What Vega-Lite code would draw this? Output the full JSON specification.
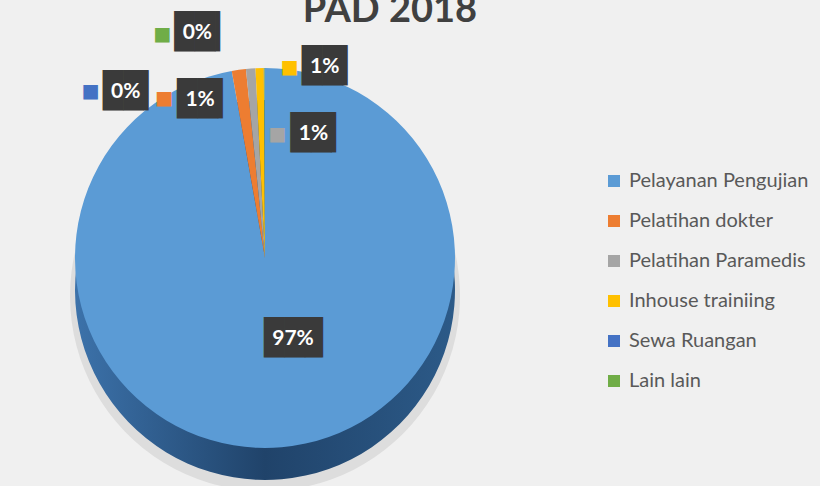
{
  "$schema": "https://vega.github.io/schema/vega-lite/v6.json",
  "width": 530,
  "height": 456,
  "autosize": {"type": "none"},
  "padding": {"left": 0, "top": 30, "right": 290, "bottom": 0},
  "background": "#f0f0f0",
  "config": {"view": {"stroke": null}},
  "title": {"text": "PAD 2018", "font": "Lato", "fontSize": 38, "fontWeight": "bold", "color": "#404040", "anchor": "middle", "offset": -14, "dx": 125},
  "data": {"values": [
    {"kategori": "Pelayanan Pengujian", "nilai": 97.2, "label": "97%", "urut": 1},
    {"kategori": "Pelatihan dokter", "nilai": 1.2, "label": "1%", "urut": 2},
    {"kategori": "Pelatihan Paramedis", "nilai": 0.8, "label": "1%", "urut": 3},
    {"kategori": "Inhouse trainiing", "nilai": 0.7, "label": "1%", "urut": 4},
    {"kategori": "Sewa Ruangan", "nilai": 0.05, "label": "0%", "urut": 5},
    {"kategori": "Lain lain", "nilai": 0.05, "label": "0%", "urut": 6}
  ]},
  "transform": [
    {"stack": "nilai", "groupby": [], "sort": [{"field": "urut", "order": "ascending"}], "as": ["v0", "v1"]}
  ],
  "layer": [
    {
      "mark": {"type": "arc", "radius": 195, "yOffset": 38, "color": "#dddddd"},
      "encoding": {
        "theta": {"field": "v0", "type": "quantitative", "scale": {"domain": [0, 100]}},
        "theta2": {"field": "v1"}
      }
    },
    {
      "mark": {"type": "arc", "radius": 190, "yOffset": 32,
        "color": {"gradient": "linear", "x1": 0, "y1": 0, "x2": 1, "y2": 0,
          "stops": [{"offset": 0, "color": "#3c72aa"}, {"offset": 0.5, "color": "#20436a"}, {"offset": 1, "color": "#2c5a88"}]}},
      "encoding": {
        "theta": {"field": "v0", "type": "quantitative", "scale": {"domain": [0, 100]}},
        "theta2": {"field": "v1"}
      }
    },
    {
      "mark": {"type": "arc", "radius": 190},
      "encoding": {
        "theta": {"field": "v0", "type": "quantitative", "scale": {"domain": [0, 100]}},
        "theta2": {"field": "v1"},
        "color": {
          "field": "kategori", "type": "nominal",
          "sort": ["Pelayanan Pengujian", "Pelatihan dokter", "Pelatihan Paramedis", "Inhouse trainiing", "Sewa Ruangan", "Lain lain"],
          "scale": {
            "domain": ["Pelayanan Pengujian", "Pelatihan dokter", "Pelatihan Paramedis", "Inhouse trainiing", "Sewa Ruangan", "Lain lain"],
            "range": ["#5b9bd5", "#ed7d31", "#a5a5a5", "#ffc000", "#4472c4", "#70ad47"]
          },
          "legend": {
            "title": null, "orient": "none", "legendX": 604, "legendY": 141,
            "symbolType": "square", "symbolSize": 144, "symbolStrokeWidth": 0,
            "labelFont": "Lato", "labelFontSize": 20, "labelColor": "#595959", "labelLimit": 0,
            "rowPadding": 20, "labelOffset": 5, "padding": 0
          }
        }
      }
    },
    {
      "transform": [{"filter": "datum.kategori === 'Pelayanan Pengujian'"}],
      "layer": [
        {"mark": {"type": "text", "radius": 80, "dx": -8, "dy": 1, "font": "DejaVu Sans Mono", "fontSize": 34, "text": "██▉", "color": "#3a3a3a", "baseline": "middle", "align": "left"},
         "encoding": {"theta": {"field": "nilai", "type": "quantitative", "stack": true, "scale": {"domain": [0, 100]}}}},
        {"mark": {"type": "text", "radius": 80, "dx": 21, "dy": 1, "font": "Lato", "fontSize": 21, "fontWeight": "bold", "color": "white", "baseline": "middle", "align": "center"},
         "encoding": {"theta": {"field": "nilai", "type": "quantitative", "stack": true, "scale": {"domain": [0, 100]}}, "text": {"field": "label"}}}
      ]
    },
    {
      "transform": [{"filter": "datum.kategori === 'Pelatihan dokter'"}],
      "encoding": {"theta": {"field": "v0", "type": "quantitative", "scale": {"domain": [0, 100]}}},
      "layer": [
        {"mark": {"type": "text", "radius": 205, "dx": -52, "dy": 44, "font": "DejaVu Sans Mono", "fontSize": 34, "text": "██▎", "color": "#3a3a3a", "baseline": "middle", "align": "left"}},
        {"mark": {"type": "text", "radius": 205, "dx": -29, "dy": 44, "font": "Lato", "fontSize": 21, "fontWeight": "bold", "color": "white", "baseline": "middle", "align": "center"}, "encoding": {"text": {"field": "label"}}},
        {"mark": {"type": "text", "radius": 205, "dx": -65, "dy": 42, "font": "DejaVu Sans", "fontSize": 19, "text": "■", "color": "#ed7d31", "baseline": "middle", "align": "center"}}
      ]
    },
    {
      "transform": [{"filter": "datum.kategori === 'Pelatihan Paramedis'"}],
      "encoding": {"theta": {"field": "v0", "type": "quantitative", "scale": {"domain": [0, 100]}}},
      "layer": [
        {"mark": {"type": "text", "radius": 205, "dx": 46, "dy": 80, "font": "DejaVu Sans Mono", "fontSize": 34, "text": "██▎", "color": "#3a3a3a", "baseline": "middle", "align": "left"}},
        {"mark": {"type": "text", "radius": 205, "dx": 69, "dy": 80, "font": "Lato", "fontSize": 21, "fontWeight": "bold", "color": "white", "baseline": "middle", "align": "center"}, "encoding": {"text": {"field": "label"}}},
        {"mark": {"type": "text", "radius": 205, "dx": 33, "dy": 80, "font": "DejaVu Sans", "fontSize": 19, "text": "■", "color": "#a5a5a5", "baseline": "middle", "align": "center"}}
      ]
    },
    {
      "transform": [{"filter": "datum.kategori === 'Inhouse trainiing'"}],
      "encoding": {"theta": {"field": "v0", "type": "quantitative", "scale": {"domain": [0, 100]}}},
      "layer": [
        {"mark": {"type": "text", "radius": 205, "dx": 47, "dy": 14, "font": "DejaVu Sans Mono", "fontSize": 34, "text": "██▎", "color": "#3a3a3a", "baseline": "middle", "align": "left"}},
        {"mark": {"type": "text", "radius": 205, "dx": 70, "dy": 14, "font": "Lato", "fontSize": 21, "fontWeight": "bold", "color": "white", "baseline": "middle", "align": "center"}, "encoding": {"text": {"field": "label"}}},
        {"mark": {"type": "text", "radius": 205, "dx": 35, "dy": 14, "font": "DejaVu Sans", "fontSize": 19, "text": "■", "color": "#ffc000", "baseline": "middle", "align": "center"}}
      ]
    },
    {
      "transform": [{"filter": "datum.kategori === 'Sewa Ruangan'"}],
      "encoding": {"theta": {"field": "v0", "type": "quantitative", "scale": {"domain": [0, 100]}}},
      "layer": [
        {"mark": {"type": "text", "radius": 205, "dx": -161, "dy": 39, "font": "DejaVu Sans Mono", "fontSize": 34, "text": "██▎", "color": "#3a3a3a", "baseline": "middle", "align": "left"}},
        {"mark": {"type": "text", "radius": 205, "dx": -138, "dy": 39, "font": "Lato", "fontSize": 21, "fontWeight": "bold", "color": "white", "baseline": "middle", "align": "center"}, "encoding": {"text": {"field": "label"}}},
        {"mark": {"type": "text", "radius": 205, "dx": -173, "dy": 38, "font": "DejaVu Sans", "fontSize": 19, "text": "■", "color": "#4472c4", "baseline": "middle", "align": "center"}}
      ]
    },
    {
      "transform": [{"filter": "datum.kategori === 'Lain lain'"}],
      "encoding": {"theta": {"field": "v0", "type": "quantitative", "scale": {"domain": [0, 100]}}},
      "layer": [
        {"mark": {"type": "text", "radius": 205, "dx": -90, "dy": -20, "font": "DejaVu Sans Mono", "fontSize": 34, "text": "██▎", "color": "#3a3a3a", "baseline": "middle", "align": "left"}},
        {"mark": {"type": "text", "radius": 205, "dx": -67, "dy": -20, "font": "Lato", "fontSize": 21, "fontWeight": "bold", "color": "white", "baseline": "middle", "align": "center"}, "encoding": {"text": {"field": "label"}}},
        {"mark": {"type": "text", "radius": 205, "dx": -102, "dy": -19, "font": "DejaVu Sans", "fontSize": 19, "text": "■", "color": "#70ad47", "baseline": "middle", "align": "center"}}
      ]
    }
  ]
}
